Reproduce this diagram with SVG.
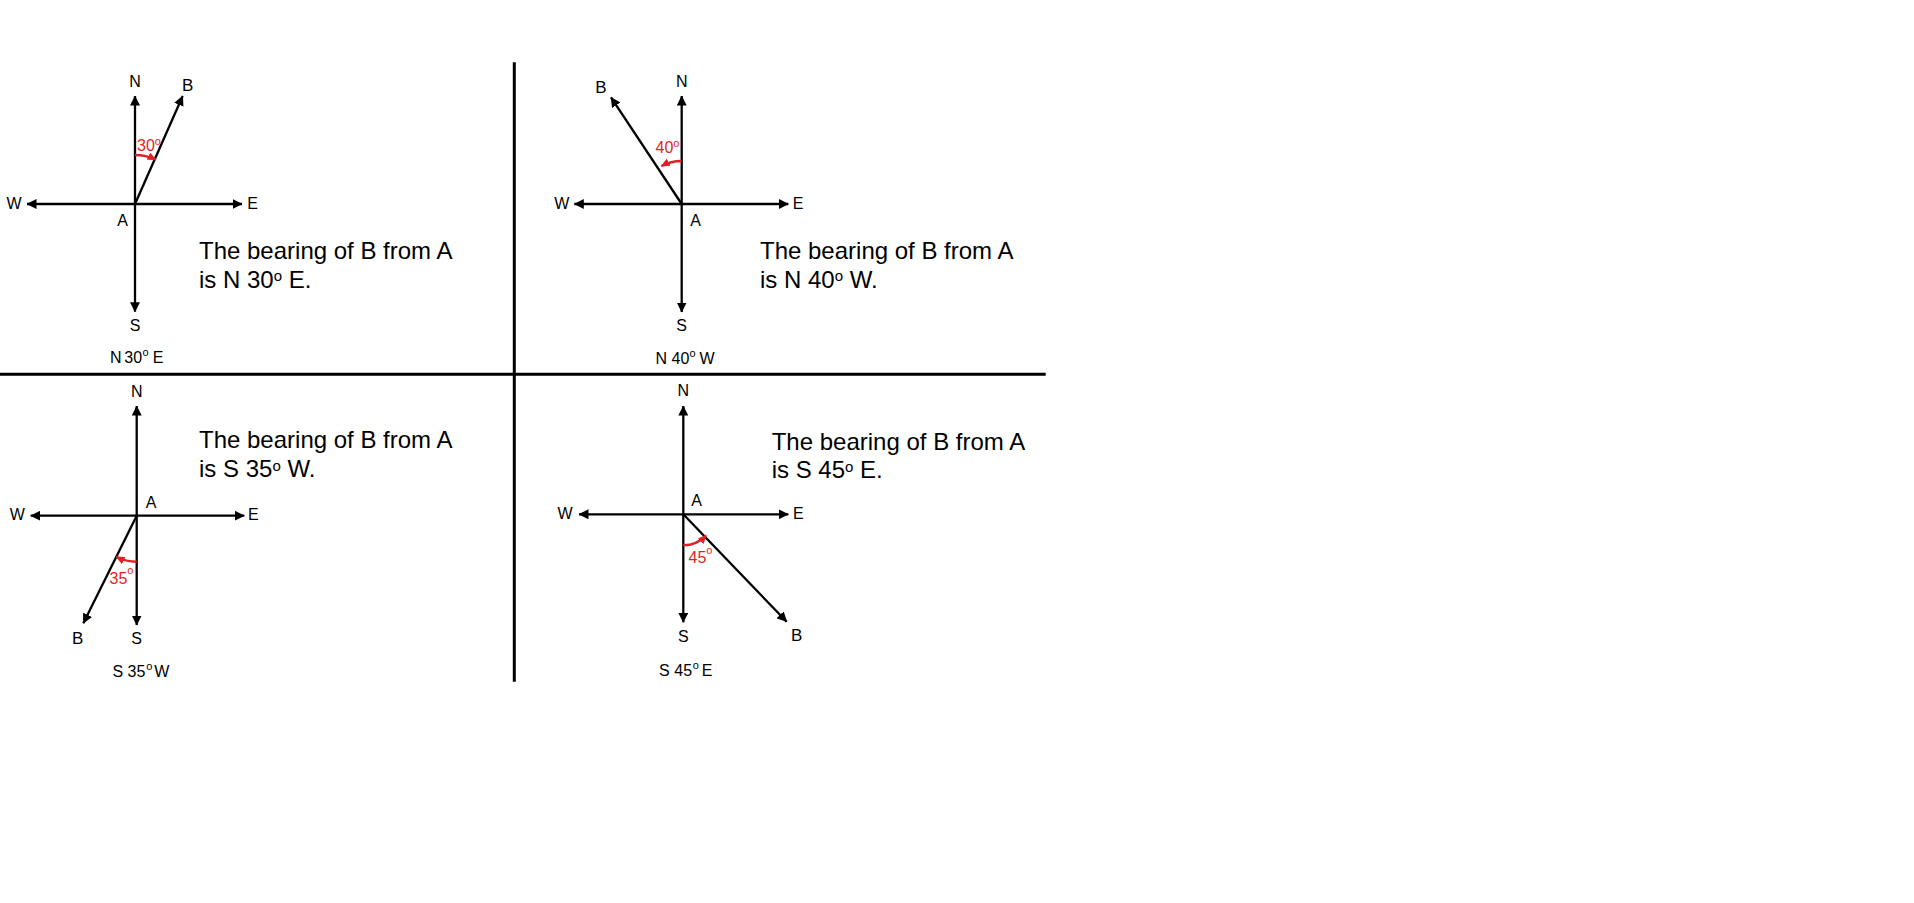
<svg xmlns="http://www.w3.org/2000/svg" width="1914" height="903" viewBox="0 0 1914 903">
<style>
text{font-family:"Liberation Sans",Arial,sans-serif;fill:#000}
.lbl{font-size:16px;text-anchor:middle}
.lb{font-size:17px;text-anchor:middle}
.main{font-size:24px}
.red{font-size:16px;fill:#e31e24}
.cap{font-size:16px}
.ax{stroke:#000;stroke-width:2.3;fill:none;marker-start:url(#ah);marker-end:url(#ah)}
.br{stroke:#000;stroke-width:2.3;fill:none;marker-end:url(#ah)}
.arc{stroke:#e31e24;stroke-width:2.5;fill:none;marker-end:url(#rh)}
.div{stroke:#000;stroke-width:3}
</style>
<defs>
<marker id="ah" viewBox="0 0 10 10" refX="9.5" refY="5" markerWidth="10" markerHeight="10" markerUnits="userSpaceOnUse" orient="auto-start-reverse"><path d="M0,0 L10,5 L0,10 z" fill="#000"/></marker>
<marker id="rh" viewBox="0 0 9 8" refX="8" refY="4" markerWidth="9" markerHeight="8" markerUnits="userSpaceOnUse" orient="auto"><path d="M0,0 L9,4 L0,8 z" fill="#e31e24"/></marker>
</defs>
<rect width="1914" height="903" fill="#fff"/>
<g id="connectors">
<line class="div" x1="514.3" y1="62.3" x2="514.3" y2="681.7"/>
<line class="div" x1="0" y1="374.3" x2="1045.7" y2="374.3"/>
<line class="ax" x1="135" y1="96" x2="135" y2="311.7"/>
<line class="ax" x1="27" y1="204" x2="242" y2="204"/>
<line class="br" x1="135" y1="204" x2="182.7" y2="96"/>
<path class="arc" d="M135,155 A49,49 0 0 1 155.7,159.6"/>
<line class="ax" x1="681.7" y1="96" x2="681.7" y2="312"/>
<line class="ax" x1="574.3" y1="204" x2="788.3" y2="204"/>
<line class="br" x1="681.7" y1="204" x2="611" y2="97.3"/>
<path class="arc" d="M681.7,161 A43,43 0 0 0 661.5,166"/>
<line class="ax" x1="136.7" y1="406" x2="136.7" y2="625"/>
<line class="ax" x1="30.7" y1="515.7" x2="244.3" y2="515.7"/>
<line class="br" x1="136.7" y1="515.7" x2="83.3" y2="623.3"/>
<path class="arc" d="M136.7,561.7 A46,46 0 0 1 116.5,557"/>
<line class="ax" x1="683.3" y1="406" x2="683.3" y2="622.3"/>
<line class="ax" x1="579" y1="514.3" x2="788.3" y2="514.3"/>
<line class="br" x1="683.3" y1="514.3" x2="786.7" y2="621.7"/>
<path class="arc" d="M683.3,545.3 A31,31 0 0 0 706,535.4"/>
</g>
<g id="q1">
<text class="lbl" x="135" y="86.7">N</text>
<text class="lb" x="187.7" y="90.7">B</text>
<text class="lbl" x="14" y="209">W</text>
<text class="lbl" x="252.5" y="209">E</text>
<text class="lbl" x="122.7" y="225.7">A</text>
<text class="lbl" x="135" y="331">S</text>
<text class="red" x="137" y="150.7">30<tspan font-size="11" dy="-5.7">o</tspan></text>
<text class="main" x="199" y="259">The bearing of B from A</text>
<text class="main" x="199" y="287.7">is N 30<tspan font-size="15" dy="-6.5">o</tspan><tspan dy="6.5"> E.</tspan></text>
<text class="cap" y="363.3"><tspan x="110">N</tspan><tspan x="124.3">30</tspan><tspan x="142.4" font-size="11" dy="-7">o</tspan><tspan x="152.7" dy="7">E</tspan></text>
</g>
<g id="q2">
<text class="lb" x="601" y="92.5">B</text>
<text class="lbl" x="681.7" y="87">N</text>
<text class="lbl" x="561.7" y="209">W</text>
<text class="lbl" x="798" y="209">E</text>
<text class="lbl" x="695.7" y="225.7">A</text>
<text class="lbl" x="681.7" y="331.4">S</text>
<text class="red" x="655.5" y="153.3">40<tspan font-size="11" dy="-6.7">o</tspan></text>
<text class="main" x="760" y="259">The bearing of B from A</text>
<text class="main" x="760" y="287.7">is N 40<tspan font-size="15" dy="-6.5">o</tspan><tspan dy="6.5"> W.</tspan></text>
<text class="cap" y="364"><tspan x="655.5">N</tspan><tspan x="671.5">40</tspan><tspan x="689.6" font-size="11" dy="-7">o</tspan><tspan x="699.5" dy="7">W</tspan></text>
</g>
<g id="q3">
<text class="lbl" x="136.7" y="397.4">N</text>
<text class="lbl" x="17.3" y="519.7">W</text>
<text class="lbl" x="253.3" y="519.7">E</text>
<text class="lbl" x="151" y="508">A</text>
<text class="lbl" x="136.7" y="644">S</text>
<text class="lb" x="77.7" y="643.8">B</text>
<text class="red" x="109.5" y="584.3">35<tspan font-size="11" dy="-10">o</tspan></text>
<text class="main" x="199" y="448.3">The bearing of B from A</text>
<text class="main" x="199" y="477.3">is S 35<tspan font-size="15" dy="-6.5">o</tspan><tspan dy="6.5"> W.</tspan></text>
<text class="cap" y="676.7"><tspan x="112.5">S</tspan><tspan x="127.5">35</tspan><tspan x="146.3" font-size="11" dy="-7">o</tspan><tspan x="154.3" dy="7">W</tspan></text>
</g>
<g id="q4">
<text class="lbl" x="683.3" y="395.7">N</text>
<text class="lbl" x="565" y="519">W</text>
<text class="lbl" x="798.3" y="519">E</text>
<text class="lbl" x="696.7" y="505.7">A</text>
<text class="lbl" x="683.3" y="642.4">S</text>
<text class="lb" x="796.7" y="640.5">B</text>
<text class="red" x="688.5" y="563.3">45<tspan font-size="11" dy="-9">o</tspan></text>
<text class="main" x="771.7" y="450">The bearing of B from A</text>
<text class="main" x="771.7" y="478.3">is S 45<tspan font-size="15" dy="-6.5">o</tspan><tspan dy="6.5"> E.</tspan></text>
<text class="cap" y="675.7"><tspan x="659">S</tspan><tspan x="674.3">45</tspan><tspan x="692.8" font-size="11" dy="-7">o</tspan><tspan x="701.8" dy="7">E</tspan></text>
</g>
</svg>
